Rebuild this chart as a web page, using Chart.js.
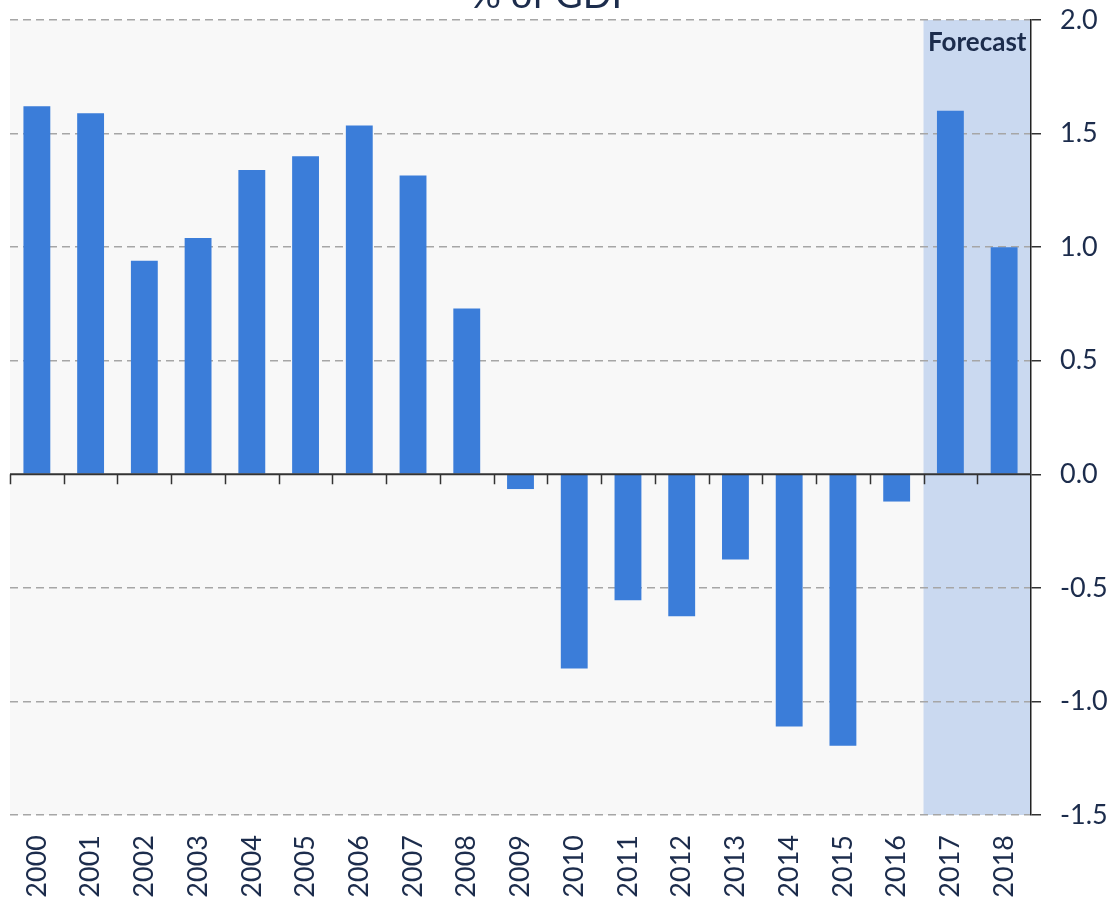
<!DOCTYPE html>
<html>
<head>
<meta charset="utf-8">
<script src="https://cdn.jsdelivr.net/npm/chart.js@4.4.1/dist/chart.umd.min.js"></script>
<style>
  html, body { margin: 0; padding: 0; background: #ffffff; }
  #wrap { width: 1117px; height: 905px; position: relative; }
</style>
</head>
<body>
<div id="wrap"><canvas id="c" width="1117" height="905"></canvas></div>
<script>
// ---- data ----
const years = ['2000','2001','2002','2003','2004','2005','2006','2007','2008','2009',
               '2010','2011','2012','2013','2014','2015','2016','2017','2018'];
const balance = [1.62, 1.59, 0.94, 1.04, 1.34, 1.40, 1.535, 1.315, 0.73, -0.065,
                 -0.855, -0.555, -0.625, -0.375, -1.11, -1.195, -0.12, 1.60, 1.00];
const forecastFrom = '2017';
const yMin = -1.5, yMax = 2.0, yStep = 0.5;
const titleText = '% of GDP';
const forecastText = 'Forecast';

// ---- styles ----
const FONT = 'Lato, "Open Sans", sans-serif';
const TEXT = '#1c2c4c';
const BAR = '#3b7dd9';

const decorPlugin = {
  id: 'decor',
  beforeDraw(chart) {
    const {ctx, chartArea: a, scales: {x}} = chart;
    ctx.save();
    ctx.fillStyle = '#f8f8f8';
    ctx.fillRect(a.left, a.top, a.right - a.left, a.bottom - a.top);
    const idx = years.indexOf(forecastFrom);
    const half = (x.getPixelForValue(1) - x.getPixelForValue(0)) / 2;
    const fx = x.getPixelForValue(idx) - half;
    ctx.fillStyle = '#cad9f0';
    ctx.fillRect(fx, a.top, a.right - fx, a.bottom - a.top);
    ctx.restore();
  },
  afterDatasetsDraw(chart) {
    const {ctx, chartArea: a, scales: {x, y}} = chart;
    const y0 = y.getPixelForValue(0);
    const half = (x.getPixelForValue(1) - x.getPixelForValue(0)) / 2;
    ctx.save();
    ctx.strokeStyle = '#333333';
    ctx.lineWidth = 2;
    ctx.beginPath();
    ctx.moveTo(a.left, y0);
    ctx.lineTo(a.right, y0);
    ctx.stroke();
    ctx.lineWidth = 1.5;
    ctx.beginPath();
    for (let i = 0; i < years.length; i++) {
      const px = Math.round(x.getPixelForValue(i) - half) + 0.5;
      ctx.moveTo(px, y0);
      ctx.lineTo(px, y0 + 10);
    }
    ctx.stroke();
    ctx.restore();
  },
  afterDraw(chart) {
    const {ctx, chartArea: a, scales: {x}} = chart;
    const idx = years.indexOf(forecastFrom);
    const half = (x.getPixelForValue(1) - x.getPixelForValue(0)) / 2;
    const fx = x.getPixelForValue(idx) - half;
    ctx.save();
    ctx.fillStyle = TEXT;
    ctx.font = 'bold 26px ' + FONT;
    ctx.textAlign = 'center';
    ctx.textBaseline = 'middle';
    ctx.fillText(forecastText, (fx + a.right) / 2, a.top + 23);
    ctx.font = '38px ' + FONT;
    ctx.textBaseline = 'alphabetic';
    ctx.fillText(titleText, chart.width / 2 - 6, 8);
    ctx.restore();
  }
};

new Chart(document.getElementById('c'), {
  type: 'bar',
  data: {
    labels: years,
    datasets: [{
      data: balance,
      backgroundColor: BAR,
      borderWidth: 0,
      barPercentage: 0.5,
      categoryPercentage: 1.0
    }]
  },
  options: {
    responsive: false,
    animation: false,
    devicePixelRatio: 1,
    layout: { padding: { top: 20, left: 10, right: 0, bottom: 0 } },
    plugins: { legend: { display: false }, tooltip: { enabled: false }, title: { display: false } },
    scales: {
      x: {
        position: 'bottom',
        grid: { display: false, drawTicks: false },
        border: { display: false },
        ticks: {
          color: TEXT,
          font: { family: FONT, size: 27 },
          minRotation: 90, maxRotation: 90,
          padding: 20,
          autoSkip: false
        },
        afterFit(s) { s.height = 90; s.paddingLeft = 0; s.paddingRight = 0; }
      },
      y: {
        position: 'right',
        min: yMin, max: yMax,
        grid: {
          color: (c) => (c.tick && c.tick.value === 0) ? 'rgba(0,0,0,0)' : '#a6a6a6',
          lineWidth: 1.5,
          tickColor: '#333333',
          tickLength: 10,
          tickWidth: 1.5,
          tickBorderDash: []
        },
        border: { display: true, color: '#222222', width: 1.5, dash: [8, 5] },
        ticks: {
          stepSize: yStep,
          color: TEXT,
          font: { family: FONT, size: 27 },
          padding: 19,
          callback: (v) => Number(v).toFixed(1)
        },
        afterFit(s) { s.width = 86; s.paddingTop = 0; s.paddingBottom = 0; }
      }
    }
  },
  plugins: [decorPlugin]
});
</script>
</body>
</html>
